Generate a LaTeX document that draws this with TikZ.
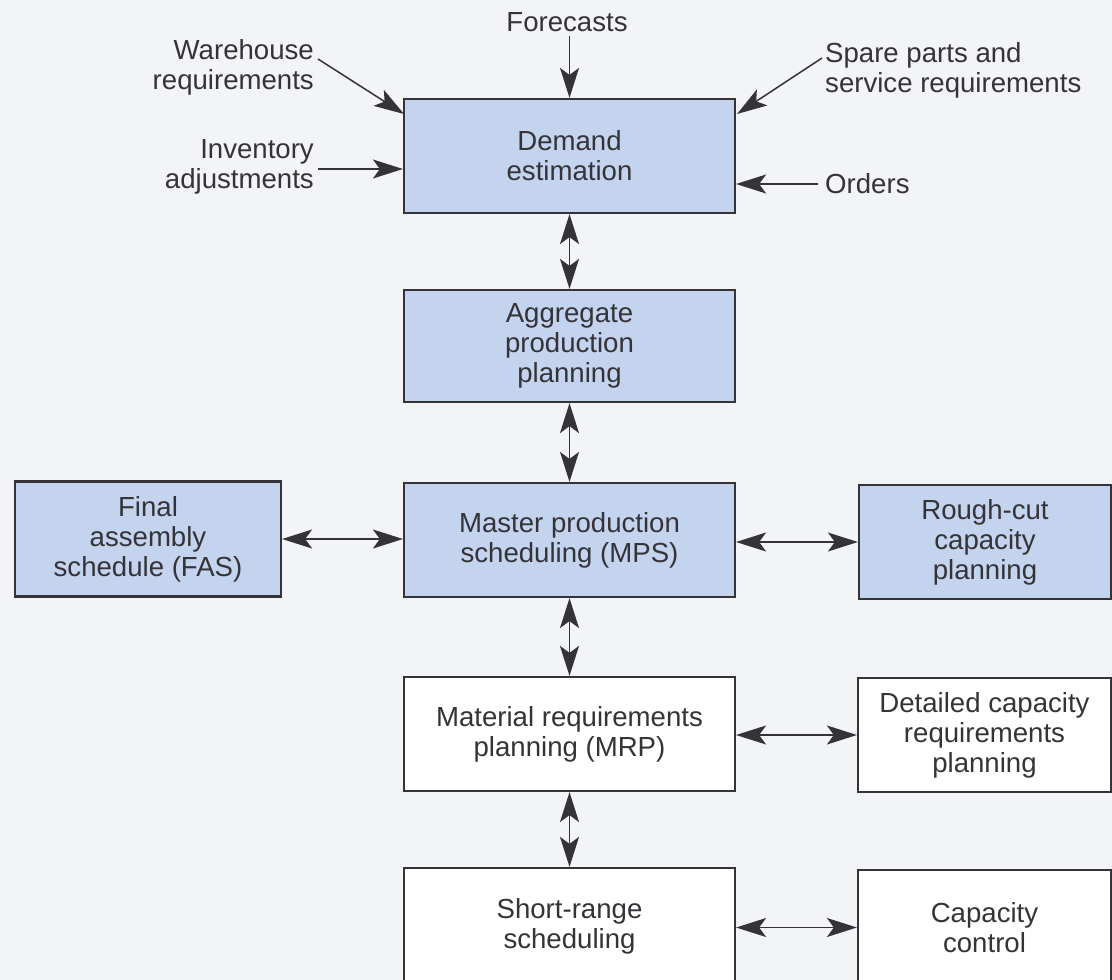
\documentclass[tikz,border=0pt]{standalone}
\usepackage{fontspec}
\setmainfont{Liberation Sans}
\usetikzlibrary{arrows.meta,calc}
\definecolor{paper}{RGB}{243,244,246}
\definecolor{ink}{RGB}{52,52,56}
\definecolor{shade}{RGB}{196,211,238}
\tikzset{
  every node/.style={font=\fontsize{27.6}{30}\selectfont, text=ink},
  box/.style={draw=ink, line width=2.2pt, align=center, inner sep=0pt, anchor=center},
  tinted/.style={box, fill=shade},
  plain/.style={box, fill=white},
  lbl/.style={inner sep=0pt},
  head/.tip={Stealth[length=30pt,width=19pt,inset=7pt]},
  tip/.style={-head, draw=ink, line width=1.5pt},
  both/.style={head-head, draw=ink, line width=1.5pt},
}
\begin{document}
\begin{tikzpicture}[x=1pt,y=-1pt]
  % page
  \fill[paper] (0,0) rectangle (1112,980);
  \useasboundingbox (0,0) rectangle (1112,980);
  \clip (0,0) rectangle (1112,980);

  % main column
  \node[tinted, minimum width=331pt, minimum height=114pt] (dem) at (569.5,156) {Demand\\estimation};
  \node[tinted, minimum width=331pt, minimum height=112pt] (app) at (569.5,346) {Aggregate\\production\\planning};
  \node[tinted, minimum width=331pt, minimum height=114pt] (mps) at (569.5,540) {Master production\\scheduling (MPS)};
  \node[plain,  minimum width=331pt, minimum height=114pt] (mrp) at (569.5,734) {Material requirements\\planning (MRP)};
  \node[plain,  minimum width=331pt, minimum height=117pt] (srs) at (569.5,926.5) {Short-range\\scheduling};

  % side boxes
  \node[tinted, minimum width=266pt, minimum height=115pt] (fas) at (148,539) {Final\\assembly\\schedule (FAS)};
  \node[tinted, minimum width=252pt, minimum height=114pt] (rcc) at (985,542) {Rough-cut\\capacity\\planning};
  \node[plain,  minimum width=253pt, minimum height=114pt] (dcr) at (984.5,735) {Detailed capacity\\requirements\\planning};
  \node[plain,  minimum width=253pt, minimum height=115pt] (cc)  at (984.5,927.5) {Capacity\\control};

  % inputs to demand estimation
  \node[lbl] (fc) at (567,22) {Forecasts};
  \node[lbl, align=right, anchor=east] (wh) at (314,67) {Warehouse\\requirements};
  \node[lbl, align=right, anchor=east] (inv) at (314,167) {Inventory\\adjustments};
  \node[lbl, align=left, anchor=west] (sp) at (825,70) {Spare parts and\\service requirements};
  \node[lbl, anchor=west] (ord) at (825,184) {Orders};

  \coordinate (whs) at (318,59);
  \coordinate (whe) at (404,114);
  \coordinate (sps) at (822,58);
  \coordinate (spe) at (737,114);

  \draw[tip] (fc.south -| dem.north) ++(0,4) -- (dem.north);
  \draw[tip] (whs) -- (whe);
  \draw[tip] (sps) -- (spe);
  \draw[tip] (inv.east |- 0,169) ++(4,0) -- (dem.west |- 0,169);
  \draw[tip] (ord.west) ++(-7,0) -- (dem.east |- ord.west);

  % vertical links
  \draw[both] (dem.south) -- (app.north);
  \draw[both] (app.south) -- (mps.north);
  \draw[both] (mps.south) -- (mrp.north);
  \draw[both] (mrp.south) -- (srs.north);

  % horizontal links
  \draw[both] (fas.east) -- (mps.west |- fas.east);
  \draw[both] (mps.east |- rcc.west) -- (rcc.west);
  \draw[both] (mrp.east |- dcr.west) -- (dcr.west);
  \draw[both] (srs.east |- cc.west) -- (cc.west);
\end{tikzpicture}
\end{document}
